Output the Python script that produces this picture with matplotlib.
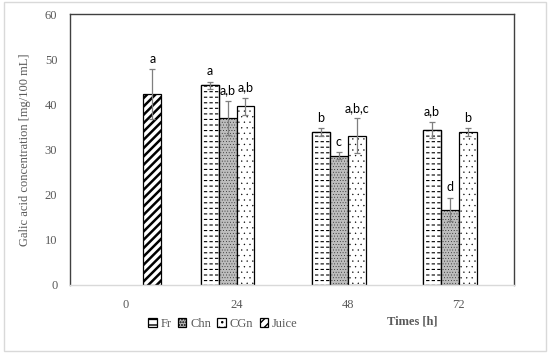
import matplotlib
matplotlib.use("Agg")
import matplotlib.pyplot as plt
import numpy as np
from matplotlib.patches import Rectangle

times = ["0", "24", "48", "72"]
series = ["Fr", "Chn", "CGn", "Juice"]

fr = [np.nan, 44.2, 33.8, 34.4]
fr_err = [np.nan, 0.8, 0.9, 1.8]
chn = [np.nan, 37.0, 28.6, 16.7]
chn_err = [np.nan, 3.8, 0.8, 2.6]
cgn = [np.nan, 39.6, 33.1, 33.8]
cgn_err = [np.nan, 1.9, 3.8, 0.9]
juice = [42.3, np.nan, np.nan, np.nan]
juice_err = [5.5, np.nan, np.nan, np.nan]

fr_labels = ["", "a", "b", "a,b"]
chn_labels = ["", "a,b", "c", "d"]
cgn_labels = ["", "a,b", "a,b,c", "b"]
juice_labels = ["a", "", "", ""]

grey = "#595959"

fig = plt.figure(figsize=(5.5, 3.54), dpi=100)
ax = fig.add_axes([0.127, 0.195, 0.808, 0.765])

x = np.arange(len(times))
w = 0.162
styles = [
    dict(facecolor="white", hatch="---", hatch_lw=0.8),
    dict(facecolor="#bdbdbd", hatch="......", hatch_lw=0.2),
    dict(facecolor="white", hatch="...", hatch_lw=0.2),
    dict(facecolor="white", hatch="////", hatch_lw=1.8),
]
values = [fr, chn, cgn, juice]
errors = [fr_err, chn_err, cgn_err, juice_err]
labels = [fr_labels, chn_labels, cgn_labels, juice_labels]


def set_hlw(bars, lw):
    for b in bars:
        if hasattr(b, "set_hatch_linewidth"):
            b.set_hatch_linewidth(lw)


handles = []
for i, (vals, errs, labs, st) in enumerate(zip(values, errors, labels, styles)):
    pos = x + (i - 1.5) * w
    bars = ax.bar(pos, vals, w, edgecolor="black", linewidth=0.9,
                  facecolor=st["facecolor"], hatch=st["hatch"], label=series[i])
    set_hlw(bars, st["hatch_lw"])
    if i == 0:
        # break the horizontal lines into dashes
        gaps = ax.bar(pos, vals, w, edgecolor="white", linewidth=0,
                      facecolor="none", hatch="|||")
        set_hlw(gaps, 1.6)
        ax.bar(pos, vals, w, edgecolor="black", linewidth=0.9, facecolor="none")
    handles.append(bars)
    ax.errorbar(pos, vals, yerr=errs, fmt="none", ecolor="#7f7f7f",
                elinewidth=0.9, capsize=2.5, capthick=0.9)
    for p, v, e, t in zip(pos, vals, errs, labs):
        if t:
            ax.text(p, v + e + 1.0, t, ha="center", va="bottom",
                    fontsize=9, family="Lato", color="black")

ax.set_xlim(-0.5, 3.5)
ax.set_ylim(0, 60)
ax.set_yticks(range(0, 61, 10))
ax.set_xticks(x)
ax.set_xticklabels(times)
ax.tick_params(length=0, labelsize=9, colors=grey)
for lab in ax.get_xticklabels() + ax.get_yticklabels():
    lab.set_family("Liberation Serif")
ax.tick_params(axis="x", pad=10)
ax.tick_params(axis="y", pad=9)

for s in ["left", "top", "right"]:
    ax.spines[s].set_color("#404040")
    ax.spines[s].set_linewidth(1.0)
ax.spines["bottom"].set_color("#d9d9d9")
ax.spines["bottom"].set_linewidth(1.0)

ax.set_ylabel("Galic acid concentration [mg/100 mL]", family="Liberation Serif",
              fontsize=9, color=grey, labelpad=10)

fig.text(0.749, 0.093, "Times [h]", ha="center", va="center",
         family="Liberation Serif", fontsize=9, fontweight="bold", color=grey)

leg = fig.legend(handles=handles, loc="center", bbox_to_anchor=(0.405, 0.085),
                 ncol=4, frameon=False, handlelength=0.7, handleheight=0.7,
                 handletextpad=0.3, columnspacing=0.5,
                 prop={"family": "Liberation Serif", "size": 9})
for t in leg.get_texts():
    t.set_color(grey)

fig.patches.append(Rectangle((0.007, 0.008), 0.986, 0.985, transform=fig.transFigure,
                             fill=False, edgecolor="#d9d9d9", linewidth=1.0))

fig.savefig("out.png", dpi=100)
